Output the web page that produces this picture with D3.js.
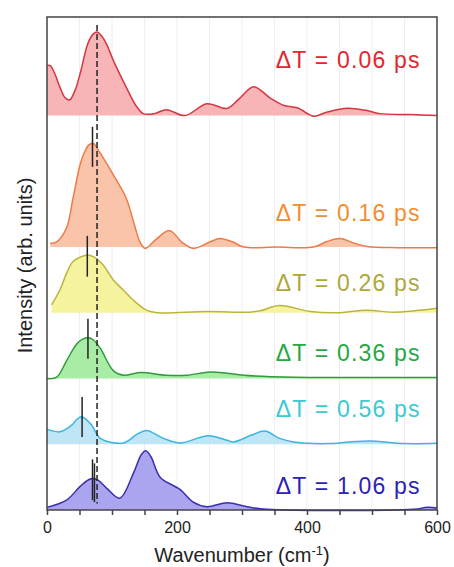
<!DOCTYPE html>
<html>
<head>
<meta charset="utf-8">
<script src="https://cdn.jsdelivr.net/npm/d3@7"></script>
<style>
  body { margin: 0; background: #fff; }
  text { font-family: "Liberation Sans", Arial, sans-serif; }
</style>
</head>
<body>
<svg class="chart"></svg>
<script>
// delay labels, top to bottom
var delays = ["0.06", "0.16", "0.26", "0.36", "0.56", "1.06"];
// vertical offset of each trace (arb. units)
var offsets = [6, 4, 3, 2, 1, 0];

// traces: wavenumber (cm-1) and intensity above own baseline
var wnRed    = [0, 5, 11, 20, 28, 35, 43, 51, 63, 71, 77, 84, 92, 102, 122, 137, 148, 165, 184, 212, 246, 277, 295, 318, 343, 366, 385, 410, 430, 462, 490, 512, 560, 600];
var intRed   = [0.76, 0.76, 0.66, 0.43, 0.27, 0.24, 0.38, 0.64, 1.10, 1.24, 1.27, 1.21, 1.08, 0.84, 0.43, 0.15, 0.03, 0.03, 0.09, 0.0, 0.18, 0.11, 0.25, 0.44, 0.27, 0.15, 0.12, -0.01, 0.05, 0.11, 0.08, 0.03, 0.015, 0.0];

var wnOrange  = [5, 15, 30, 40, 51, 58, 64, 71, 78, 87, 102, 122, 133, 143, 151, 169, 189, 207, 225, 251, 266, 285, 303, 353, 410, 430, 451, 472, 492, 540, 600];
var intOrange = [0.06, 0.08, 0.29, 0.74, 1.26, 1.45, 1.55, 1.58, 1.49, 1.35, 1.10, 0.74, 0.39, 0.08, -0.02, 0.13, 0.25, 0.08, -0.02, 0.08, 0.13, 0.08, 0.0, 0.0, 0.0, 0.08, 0.13, 0.06, 0.01, -0.01, -0.01];

var wnYellow  = [7, 20, 30, 40, 52, 62, 72, 86, 102, 117, 133, 153, 170, 246, 312, 328, 358, 405, 446, 492, 533, 600];
var intYellow = [0.12, 0.35, 0.60, 0.78, 0.85, 0.88, 0.85, 0.73, 0.50, 0.35, 0.19, 0.04, 0.0, 0.02, 0.01, 0.03, 0.11, 0.02, 0.0, 0.04, 0.01, 0.07];

var wnGreen  = [0, 15, 30, 46, 55, 63, 71, 82, 102, 118, 143, 184, 215, 251, 277, 303, 380, 456, 600];
var intGreen = [0.0, 0.02, 0.27, 0.53, 0.60, 0.62, 0.59, 0.46, 0.12, 0.05, 0.09, 0.05, 0.05, 0.10, 0.08, 0.05, 0.02, 0.015, 0.015];

var wnCyan  = [0, 20, 38, 46, 53, 60, 69, 82, 118, 138, 153, 179, 205, 248, 277, 287, 315, 335, 358, 380, 430, 466, 497, 549, 600];
var intCyan = [0.23, 0.19, 0.29, 0.38, 0.42, 0.38, 0.29, 0.09, 0.02, 0.15, 0.21, 0.09, 0.02, 0.13, 0.06, 0.035, 0.14, 0.20, 0.09, 0.035, 0.01, 0.035, 0.05, 0.01, 0.015];

var wnBlue  = [0, 30, 51, 64, 71, 79, 92, 112, 133, 145, 152, 160, 174, 205, 225, 246, 277, 308, 338, 564, 585, 600];
var intBlue = [0.04, 0.15, 0.36, 0.46, 0.48, 0.45, 0.33, 0.18, 0.56, 0.84, 0.90, 0.81, 0.50, 0.31, 0.12, 0.05, 0.11, 0.05, 0.01, 0.01, 0.04, 0.03];

var wavenumbers = [wnRed, wnOrange, wnYellow, wnGreen, wnCyan, wnBlue];
var intensities = [intRed, intOrange, intYellow, intGreen, intCyan, intBlue];

// peak markers: trace index, wavenumber, low and high end above baseline
var markerTrace = [1, 2, 3, 4, 5, 5];
var markerWn    = [70, 62, 63, 54, 70, 73];
var markerLow   = [1.22, 0.55, 0.30, 0.11, 0.15, 0.12];
var markerHigh  = [1.83, 1.17, 0.91, 0.72, 0.77, 0.71];

var refWn = 77;   // dashed reference line
var xTicks = [0, 200, 400, 600];

// styles
var lineColors = ["#d4363f", "#ec7b47", "#bbb43e", "#2f9b3c", "#3cb5df", "#3b2faf"];
var fillColors = ["#f8b5b8", "#fac4ab", "#f6f39e", "#a9eca5", "#bfe6f7", "#aaa5ee"];
var textColors = ["#e2262f", "#f28e30", "#aea83a", "#26a843", "#3cc9d1", "#2c22b6"];
var labelLift  = [0.72, 0.39, 0.33, 0.27, 0.41, 0.24];

var W = 454, H = 567;
var margin = {top: 17, right: 17, bottom: 57, left: 47},
    width = W - margin.left - margin.right,
    height = H - margin.top - margin.bottom;

var svg = d3.select(".chart").attr("width", W).attr("height", H);
var g = svg.append("g").attr("transform", "translate(" + margin.left + "," + margin.top + ")");

var x = d3.scaleLinear().domain([0, 600]).range([0, width]);
var y = d3.scaleLinear().domain([0, 7.5]).range([height, 0]);

// faint grid
g.append("g").selectAll("line")
  .data(d3.range(50, 600, 50))
  .enter().append("line")
    .attr("x1", d => x(d)).attr("x2", d => x(d))
    .attr("y1", 0).attr("y2", height)
    .attr("stroke", "#eeeeee")
    .attr("stroke-width", 1);

// traces
intensities.forEach(function(vals, i){
  var pts = vals.map(function(v, j){ return {wn: wavenumbers[i][j], v: v}; });
  var base = offsets[i];

  var area = d3.area()
    .curve(d3.curveCatmullRom.alpha(0.5))
    .x(d => x(d.wn))
    .y0(y(base))
    .y1(d => y(base + d.v));

  var line = d3.line()
    .curve(d3.curveCatmullRom.alpha(0.5))
    .x(d => x(d.wn))
    .y(d => y(base + d.v));

  g.append("path").datum(pts)
    .attr("d", area)
    .attr("fill", fillColors[i]);

  g.append("path").datum(pts)
    .attr("d", line)
    .attr("fill", "none")
    .attr("stroke", lineColors[i])
    .attr("stroke-width", 1.5);

  g.append("text")
    .attr("x", x(575))
    .attr("y", y(base + labelLift[i]))
    .attr("text-anchor", "end")
    .attr("fill", textColors[i])
    .style("font-size", "23px")
    .style("letter-spacing", "1.2px")
    .text("\u0394T = " + delays[i] + " ps");
});

// peak markers
markerWn.forEach(function(wn, k){
  var base = offsets[markerTrace[k]];
  g.append("line")
    .attr("x1", x(wn)).attr("x2", x(wn))
    .attr("y1", y(base + markerLow[k])).attr("y2", y(base + markerHigh[k]))
    .attr("stroke", "#222")
    .attr("stroke-width", 1.5);
});

// dashed reference
g.append("line")
  .attr("x1", x(refWn)).attr("x2", x(refWn))
  .attr("y1", y(7.38)).attr("y2", y(0.1))
  .attr("stroke", "#222")
  .attr("stroke-width", 1.5)
  .attr("stroke-dasharray", "6,3");

// frame
g.append("rect")
  .attr("width", width).attr("height", height)
  .attr("fill", "none")
  .attr("stroke", "#444")
  .attr("stroke-width", 1.5);

// x axis
var xAxis = g.append("g")
  .attr("transform", "translate(0," + height + ")")
  .call(d3.axisBottom(x).tickValues(d3.range(0, 601, 50)).tickSize(5).tickFormat(d => xTicks.indexOf(d) >= 0 ? d : ""));
xAxis.select(".domain").remove();
xAxis.selectAll("line").attr("stroke", "#444").attr("stroke-width", 1.5);
xAxis.selectAll("text")
  .attr("fill", "#222")
  .attr("dy", "0.71em")
  .attr("y", 12)
  .style("font-size", "16px")
  .style("font-family", "'Liberation Sans', Arial, sans-serif");

// axis titles
var xt = svg.append("text")
  .attr("x", margin.left + width / 2)
  .attr("y", 562)
  .attr("text-anchor", "middle")
  .attr("fill", "#222")
  .style("font-size", "20px");
xt.append("tspan").text("Wavenumber (cm");
xt.append("tspan").attr("dy", "-7").style("font-size", "13px").text("-1");
xt.append("tspan").attr("dy", "7").text(")");

svg.append("text")
  .attr("transform", "translate(32," + (margin.top + height / 2 + 2) + ") rotate(-90)")
  .attr("text-anchor", "middle")
  .attr("fill", "#222")
  .style("font-size", "20px")
  .text("Intensity (arb. units)");
</script>
</body>
</html>
